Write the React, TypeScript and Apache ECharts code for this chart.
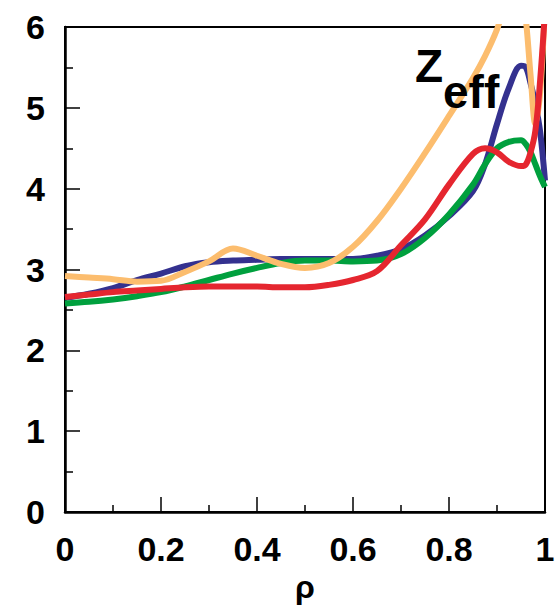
import React, { useEffect, useRef } from "react";
import * as echarts from "echarts";

const rho = [0, 0.05, 0.1, 0.15, 0.2, 0.25, 0.3, 0.35, 0.4, 0.45, 0.5, 0.55, 0.6, 0.65, 0.7, 0.75, 0.8, 0.85, 0.875, 0.9, 0.925, 0.95, 0.96, 0.97, 0.98, 0.99, 1.0];
const blueZ = [2.65, 2.7, 2.77, 2.87, 2.95, 3.04, 3.09, 3.11, 3.12, 3.13, 3.13, 3.13, 3.13, 3.17, 3.25, 3.42, 3.66, 3.97, 4.3, 4.8, 5.25, 5.52, 5.5, 5.3, 5.05, 4.7, 4.1];
const greenZ = [2.58, 2.6, 2.63, 2.67, 2.72, 2.79, 2.87, 2.95, 3.02, 3.08, 3.11, 3.11, 3.1, 3.11, 3.19, 3.39, 3.68, 4.05, 4.3, 4.5, 4.58, 4.6, 4.55, 4.45, 4.3, 4.15, 4.02];
const orangeZ = [2.92, 2.9, 2.88, 2.85, 2.86, 2.97, 3.1, 3.26, 3.17, 3.07, 3.02, 3.08, 3.28, 3.6, 4.0, 4.44, 4.9, 5.37, 5.64, 5.97, 6.4, 6.5, 6.1, 5.4, 4.8, 5.2, 6.3];
const redZ = [2.66, 2.69, 2.72, 2.74, 2.76, 2.78, 2.79, 2.79, 2.79, 2.78, 2.78, 2.81, 2.87, 2.98, 3.3, 3.62, 4.05, 4.43, 4.5, 4.45, 4.33, 4.28, 4.3, 4.45, 4.72, 5.35, 6.2];

const seriesDefs = [
  { name: "blue", color: "#34318F", values: blueZ },
  { name: "green", color: "#00A03E", values: greenZ },
  { name: "orange", color: "#FCBD6E", values: orangeZ },
  { name: "red", color: "#E5262F", values: redZ },
];

const FONT = "'Liberation Sans', Arial, Helvetica, sans-serif";

export default function App() {
  const ref = useRef<HTMLDivElement>(null);
  useEffect(() => {
    if (!ref.current) return;
    const chart = echarts.init(ref.current, undefined, { renderer: "svg" });
    chart.setOption({
      animation: false,
      backgroundColor: "#ffffff",
      grid: {
        left: 65,
        right: 15,
        top: 27,
        bottom: 99,
        show: true,
        borderColor: "#000",
        borderWidth: 2,
      },
      xAxis: {
        type: "value",
        min: 0,
        max: 1,
        interval: 0.2,
        name: "ρ",
        nameLocation: "middle",
        nameGap: 58,
        nameTextStyle: { fontFamily: FONT, fontWeight: "bold", fontSize: 32, color: "#000" },
        axisLine: { show: true, lineStyle: { color: "#000", width: 2.5 } },
        axisTick: { show: true, inside: true, length: 15, lineStyle: { color: "#000", width: 1.5 } },
        minorTick: { show: true, splitNumber: 2, length: 7, lineStyle: { color: "#000", width: 1.5 } },
        splitLine: { show: false },
        axisLabel: {
          margin: 20,
          fontFamily: FONT,
          fontWeight: "bold",
          fontSize: 34,
          color: "#000",
          formatter: (v: number) => String(Math.round(v * 10) / 10),
        },
      },
      yAxis: {
        type: "value",
        min: 0,
        max: 6,
        interval: 1,
        axisLine: { show: true, lineStyle: { color: "#000", width: 2.5 } },
        axisTick: { show: true, inside: true, length: 15, lineStyle: { color: "#000", width: 1.5 } },
        minorTick: { show: true, splitNumber: 2, length: 8, lineStyle: { color: "#000", width: 1.5 } },
        splitLine: { show: false },
        axisLabel: {
          margin: 20,
          fontFamily: FONT,
          fontWeight: "bold",
          fontSize: 34,
          color: "#000",
        },
      },
      series: seriesDefs.map((s) => ({
        name: s.name,
        type: "line",
        data: rho.map((x, i) => [x, s.values[i]]),
        showSymbol: false,
        smooth: 0.35,
        clip: true,
        lineStyle: { color: s.color, width: 6 },
        itemStyle: { color: s.color },
      })),
      graphic: [
        {
          type: "text",
          x: 415,
          y: 66,
          z: 100,
          style: {
            text: "Z",
            fontFamily: FONT,
            fontWeight: "bold",
            fontSize: 46,
            fill: "#000",
            textAlign: "left",
            textVerticalAlign: "middle",
          },
        },
        {
          type: "text",
          x: 443,
          y: 92,
          z: 100,
          style: {
            text: "eff",
            fontFamily: FONT,
            fontWeight: "bold",
            fontSize: 46,
            fill: "#000",
            textAlign: "left",
            textVerticalAlign: "middle",
          },
        },
      ],
    });
    return () => chart.dispose();
  }, []);
  return (
    <div
      ref={ref}
      style={{ position: "fixed", left: 0, top: 0, width: 560, height: 611 }}
    />
  );
}
